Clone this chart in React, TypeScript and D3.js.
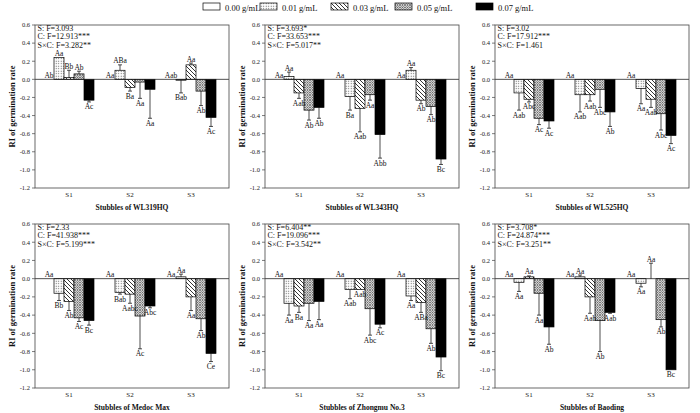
import React from "react";
import * as d3 from "d3";

const concentrations = ["0.00 g/mL", "0.01 g/mL", "0.03 g/mL", "0.05 g/mL", "0.07 g/mL"];
const stubbles = ["S1", "S2", "S3"];
const yTickValues = [0.6, 0.4, 0.2, 0, -0.2, -0.4, -0.6, -0.8, -1.0, -1.2];
const yTickLabels = ["0.6", "0.4", "0.2", "0.0", "-0.2", "-0.4", "-0.6", "-0.8", "-1.0", "-1.2"];

const panelTitles = [
  "Stubbles of WL319HQ",
  "Stubbles of WL343HQ",
  "Stubbles of WL525HQ",
  "Stubbles of Medoc Max",
  "Stubbles of Zhongmu No.3",
  "Stubbles of Baoding",
];
const statS = ["S: F=3.093", "S: F=3.693*", "S: F=3.02", "S: F=2.33", "S: F=6.404**", "S: F=3.708*"];
const statC = ["C: F=12.913***", "C: F=33.653***", "C: F=17.912***", "C: F=41.938***", "C: F=19.096***", "C: F=24.874***"];
const statSC = ["S×C: F=3.282**", "S×C: F=5.017**", "S×C: F=1.461", "S×C: F=5.199***", "S×C: F=3.542**", "S×C: F=3.251**"];

// rows: S1, S2, S3 ; columns: concentrations
const wl319Means = [[0, 0.24, 0.02, 0.06, -0.23], [0, 0.10, -0.09, -0.03, -0.11], [0, -0.01, 0.16, -0.13, -0.42]];
const wl319Errors = [[0, 0, 0.08, 0.03, 0.02], [0, 0.06, 0.04, 0.18, 0.32], [0, 0.14, 0.02, 0.16, 0.10]];
const wl319Letters = [["Ab", "Aa", "Bb", "Ab", "Ac"], ["Aa", "ABa", "Ba", "Aa", "Aa"], ["Aab", "Bab", "Aa", "Ab", "Ac"]];

const wl343Means = [[0, 0.03, -0.15, -0.34, -0.31], [0, -0.19, -0.32, -0.17, -0.61], [0, 0.10, -0.23, -0.30, -0.88]];
const wl343Errors = [[0, 0.05, 0.06, 0.11, 0.12], [0, 0.15, 0.26, 0.06, 0.26], [0, 0.03, 0.04, 0.09, 0.06]];
const wl343Letters = [["Aa", "Aa", "Aab", "Ab", "Ab"], ["Aa", "Ba", "Aab", "Aa", "Abb"], ["Aa", "Aa", "Ab", "Ab", "Bc"]];

const wl525Means = [[0, -0.15, -0.22, -0.43, -0.46], [0, -0.17, -0.17, -0.11, -0.36], [0, -0.10, -0.22, -0.38, -0.62]];
const wl525Errors = [[0, 0.19, 0.03, 0.07, 0.08], [0, 0.19, 0.07, 0.20, 0.16], [0, 0.17, 0.09, 0.18, 0.09]];
const wl525Letters = [["Aa", "Aab", "Abc", "Ac", "Ac"], ["Aa", "Aab", "Aab", "Abc", "Ab"], ["Aa", "Aa", "Aab", "Abc", "Ac"]];

const medocMeans = [[0, -0.16, -0.25, -0.43, -0.46], [0, -0.15, -0.17, -0.41, -0.30], [0, 0.02, -0.20, -0.44, -0.82]];
const medocErrors = [[0, 0.08, 0.10, 0.04, 0.05], [0, 0.02, 0.10, 0.36, 0.02], [0, 0.03, 0.15, 0.13, 0.09]];
const medocLetters = [["Aa", "Bb", "Ab", "Ac", "Bc"], ["Aa", "Bab", "Aabc", "Ac", "Abc"], ["Aa", "Aa", "Aa", "Ab", "Ce"]];

const zhongmuMeans = [[0, -0.27, -0.30, -0.27, -0.25], [0, -0.12, -0.12, -0.33, -0.50], [0, -0.19, -0.26, -0.55, -0.86]];
const zhongmuErrors = [[0, 0.13, 0.07, 0.19, 0.20], [0, 0.10, 0, 0.29, 0.04], [0, 0.05, 0.11, 0.16, 0.15]];
const zhongmuLetters = [["Aa", "Aa", "Ba", "Aa", "Aa"], ["Aa", "Aab", "Aab", "Abc", "Ac"], ["Aa", "Aa", "ABa", "Ab", "Bc"]];

const baodingMeans = [[0, -0.04, 0.02, -0.16, -0.53], [0, 0.02, -0.20, -0.46, -0.37], [0, -0.05, 0, -0.45, -1.0]];
const baodingErrors = [[0, 0.10, 0.01, 0.24, 0.19], [0, 0.02, 0.18, 0.34, 0.01], [0, 0.04, 0.17, 0.08, 0]];
const baodingLetters = [["Aa", "Aa", "Aa", "Aa", "Ab"], ["Aa", "Aa", "Aab", "Ab", "Aab"], ["Aa", "Aa", "Aa", "Ab", "Bc"]];

const panelMeans = [wl319Means, wl343Means, wl525Means, medocMeans, zhongmuMeans, baodingMeans];
const panelErrors = [wl319Errors, wl343Errors, wl525Errors, medocErrors, zhongmuErrors, baodingErrors];
const panelLetters = [wl319Letters, wl343Letters, wl525Letters, medocLetters, zhongmuLetters, baodingLetters];

const FONT = "'Liberation Serif', 'Times New Roman', serif";
const fills = ["#ffffff", "url(#pDots)", "url(#pHatch)", "url(#pCross)", "#000000"];

const panelLefts = [35, 265, 495];
const panelWidth = 194;
const rowTops = [25, 224];
const rowBottoms = [188, 388];
const legendTextX = [225, 282, 353, 417, 498];

function Panel({ idx }: { idx: number }) {
  const col = idx % 3;
  const row = Math.floor(idx / 3);
  const left = panelLefts[col];
  const right = left + panelWidth;
  const top = rowTops[row];
  const bottom = rowBottoms[row];
  const y = d3.scaleLinear().domain([-1.2, 0.6]).range([bottom, top]);
  const xg = d3.scaleBand<string>().domain(stubbles).range([left + 3.5, left + 186.5]);
  const xi = d3.scaleBand<string>().domain(concentrations).range([-25, 25]);
  const bw = xi.bandwidth();
  const means = panelMeans[idx];
  const errs = panelErrors[idx];
  const letters = panelLetters[idx];
  const y0 = y(0);

  const bars: React.ReactNode[] = [];
  const errBars: React.ReactNode[] = [];
  const labels: React.ReactNode[] = [];
  stubbles.forEach((s, gi) => {
    const gc = (xg(s) as number) + xg.bandwidth() / 2;
    concentrations.forEach((c, ci) => {
      const v = means[gi][ci];
      const e = errs[gi][ci];
      const bx = gc + (xi(c) as number);
      const cx = bx + bw / 2;
      const yv = y(v);
      if (v !== 0) {
        bars.push(
          <rect key={`b${gi}${ci}`} x={bx} y={Math.min(yv, y0)} width={bw} height={Math.abs(yv - y0)}
            fill={fills[ci]} stroke="#000" strokeWidth={0.7} />
        );
      }
      const dir = v >= 0 ? 1 : -1;
      const yEnd = y(v + dir * e);
      if (e > 0) {
        errBars.push(
          <g key={`e${gi}${ci}`} stroke="#000" strokeWidth={0.7}>
            <line x1={cx} x2={cx} y1={yv} y2={yEnd} />
            <line x1={cx - 2} x2={cx + 2} y1={yEnd} y2={yEnd} />
          </g>
        );
      }
      labels.push(
        <text key={`l${gi}${ci}`} x={cx} y={dir > 0 ? yEnd - 1.5 : yEnd + 7.5} textAnchor="middle"
          fontSize={7.5} fontFamily={FONT} fill="#111">{letters[gi][ci]}</text>
      );
    });
  });

  return (
    <g>
      {bars}
      <line x1={left} x2={right} y1={y0} y2={y0} stroke="#222" strokeWidth={0.8} />
      {errBars}
      {labels}
      <rect x={left} y={top} width={panelWidth} height={bottom - top} fill="none" stroke="#444" strokeWidth={0.8} />
      {yTickValues.map((t, i) => (
        <g key={`t${i}`}>
          <line x1={left - 3} x2={left} y1={y(t)} y2={y(t)} stroke="#444" strokeWidth={0.7} />
          <text x={left - 5} y={y(t) + 2.3} textAnchor="end" fontSize={6.5} fontFamily={FONT} fill="#222">{yTickLabels[i]}</text>
        </g>
      ))}
      {stubbles.map((s) => (
        <text key={s} x={(xg(s) as number) + xg.bandwidth() / 2} y={bottom + 8.5} textAnchor="middle"
          fontSize={7} fontFamily={FONT} fill="#222">{s}</text>
      ))}
      <text x={(left + right) / 2} y={bottom + 21.5} textAnchor="middle" fontSize={7.5} fontWeight="bold"
        fontFamily={FONT} fill="#111">{panelTitles[idx]}</text>
      <text transform={`translate(${left - 20},${(top + bottom) / 2}) rotate(-90)`} textAnchor="middle"
        fontSize={8.5} fontWeight="bold" fontFamily={FONT} fill="#111">RI of germination rate</text>
      <g fontSize={8} fontFamily={FONT} fill="#111">
        <text x={left + 2.5} y={top + 6.2}>{statS[idx]}</text>
        <text x={left + 2.5} y={top + 14.4}>{statC[idx]}</text>
        <text x={left + 2.5} y={top + 22.5}>{statSC[idx]}</text>
      </g>
    </g>
  );
}

export default function App() {
  return (
    <svg width={700} height={413} viewBox="0 0 700 413" style={{ display: "block", position: "absolute", left: 0, top: 0, background: "#fff" }}>
      <style>{"body{margin:0}"}</style>
      <defs>
        <pattern id="pDots" patternUnits="userSpaceOnUse" width={2.5} height={2.5}>
          <rect width={2.5} height={2.5} fill="#fff" />
          <rect x={0.7} y={0.7} width={1} height={1} fill="#555" />
        </pattern>
        <pattern id="pHatch" patternUnits="userSpaceOnUse" width={4} height={4}>
          <rect width={4} height={4} fill="#fff" />
          <path d="M0,0 L4,4 M-1,3 L1,5 M3,-1 L5,1" stroke="#000" strokeWidth={0.8} />
        </pattern>
        <pattern id="pCross" patternUnits="userSpaceOnUse" width={2.5} height={2.5}>
          <rect width={2.5} height={2.5} fill="#fff" />
          <path d="M0,0 L2.5,2.5 M2.5,0 L0,2.5" stroke="#333" strokeWidth={0.6} />
        </pattern>
      </defs>
      <rect width={700} height={413} fill="#fff" />
      {concentrations.map((c, i) => (
        <g key={c}>
          <rect x={legendTextX[i] - 22} y={3} width={17} height={7} fill={fills[i]} stroke="#000" strokeWidth={0.7} />
          <text x={legendTextX[i]} y={10.5} fontSize={8.5} fontFamily={FONT} fill="#111">{c}</text>
        </g>
      ))}
      {[0, 1, 2, 3, 4, 5].map((i) => <Panel key={i} idx={i} />)}
    </svg>
  );
}
